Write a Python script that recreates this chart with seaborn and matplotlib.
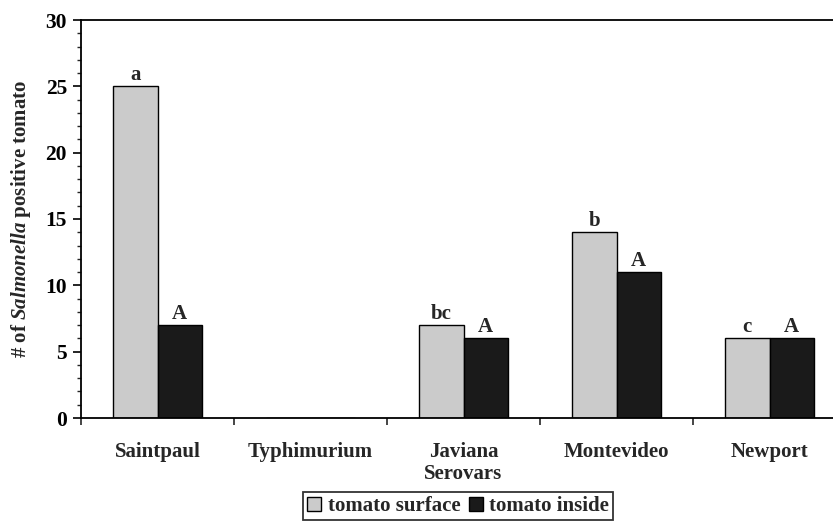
import matplotlib
matplotlib.use("Agg")
import matplotlib.pyplot as plt
import seaborn as sns
import pandas as pd
import numpy as np
from matplotlib.ticker import MultipleLocator, FixedLocator
from matplotlib.patches import Patch

categories = ["Saintpaul", "Typhimurium", "Javiana", "Montevideo", "Newport"]
surface = [25, 0, 7, 14, 6]
inside = [7, 0, 6, 11, 6]
surface_letters = ["a", "", "bc", "b", "c"]
inside_letters = ["A", "", "A", "A", "A"]
series_names = ["tomato surface", "tomato inside"]

df = pd.DataFrame({
    "serovar": categories * 2,
    "count": surface + inside,
    "series": [series_names[0]] * len(categories) + [series_names[1]] * len(categories),
})

sns.set_style("ticks")
plt.rcParams["font.family"] = ["Liberation Serif", "DejaVu Serif"]
plt.rcParams["font.weight"] = "bold"
plt.rcParams["mathtext.fontset"] = "custom"
plt.rcParams["mathtext.rm"] = "Liberation Serif:bold"
plt.rcParams["mathtext.it"] = "Liberation Serif:italic:bold"
plt.rcParams["mathtext.bf"] = "Liberation Serif:bold"

colors = ["#cbcbcb", "#1a1a1a"]

fig = plt.figure(figsize=(8.33, 5.23), dpi=100)
ax = fig.add_axes([81 / 833, 1 - 418 / 523, 765 / 833, 398 / 523])

sns.barplot(data=df, x="serovar", y="count", hue="series", palette=colors,
            width=0.58, edgecolor="black", linewidth=1.0, ax=ax, legend=False,
            saturation=1)

ax.set_xlim(-0.5, 4.5)
ax.set_ylim(0, 30)
ax.yaxis.set_major_locator(MultipleLocator(5))
ax.yaxis.set_minor_locator(MultipleLocator(1))
ax.xaxis.set_minor_locator(FixedLocator(np.arange(-0.5, 5.0, 1.0)))

ax.tick_params(axis="y", which="major", length=6, width=1.2, direction="out",
               labelsize=15.5, pad=4, colors="black")
ax.tick_params(axis="y", which="minor", length=3, width=1.0, direction="out")
ax.tick_params(axis="x", which="major", length=0, labelsize=15, pad=17)
ax.tick_params(axis="x", which="minor", length=5, width=1.2, direction="out")

ax.set_xticks(range(len(categories)))
ax.set_xticklabels(categories, fontweight="bold")
for lab in ax.get_yticklabels():
    lab.set_fontweight("bold")

ax.set_xlabel("Serovars", fontsize=15, fontweight="bold")
ax.xaxis.label.set_va("center")
ax.xaxis.set_label_coords((463 - 81) / 765, -56 / 398)
ax.set_ylabel(r"# of $\mathit{Salmonella}$ positive tomato", fontsize=15,
              fontweight="bold")
ax.yaxis.label.set_va("center")
ax.yaxis.set_label_coords(-60 / 765, 0.5)

for side in ["left", "bottom", "top"]:
    ax.spines[side].set_visible(True)
    ax.spines[side].set_color("black")
    ax.spines[side].set_linewidth(1.3)
ax.spines["right"].set_visible(False)

# letters above bars
half = 0.29
for i in range(len(categories)):
    if surface_letters[i]:
        ax.text(i - half / 2, surface[i] + 0.1, surface_letters[i], ha="center",
                va="bottom", fontsize=15, fontweight="bold")
    if inside_letters[i]:
        ax.text(i + half / 2, inside[i] + 0.1, inside_letters[i], ha="center",
                va="bottom", fontsize=15, fontweight="bold")

handles = [Patch(facecolor=colors[0], edgecolor="black", linewidth=1.0),
           Patch(facecolor=colors[1], edgecolor="black", linewidth=1.0)]
leg = fig.legend(handles, series_names, loc="upper center",
                 bbox_to_anchor=(458 / 833, 1 - 492 / 523), ncol=2,
                 frameon=True, fancybox=False, edgecolor="black",
                 prop={"family": "Liberation Serif", "weight": "bold", "size": 15},
                 handlelength=0.7, handleheight=0.7, handletextpad=0.3,
                 columnspacing=0.4, borderpad=0.2, borderaxespad=0)
leg.get_frame().set_linewidth(1.3)

fig.savefig("out.png", dpi=100)
